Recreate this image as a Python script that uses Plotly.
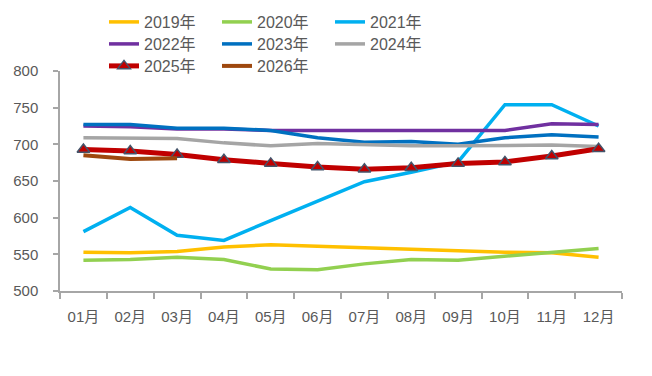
import plotly.graph_objects as go

months = ["01月", "02月", "03月", "04月", "05月", "06月", "07月", "08月", "09月", "10月", "11月", "12月"]

y2019 = [553, 552, 554, 560, 563, 561, 558, 556, 554, 553, 552, 546]
y2020 = [542, 543, 546, 543, 530, 529, 537, 543, 542, 547, 552, 558]
y2021 = [581, 614, 576, 569, 596, 623, 649, 662, 676, 754, 754, 725]
y2022 = [725, 724, 721, 721, 719, 719, 719, 719, 719, 719, 728, 727]
y2023 = [727, 727, 722, 722, 719, 709, 703, 704, 700, 709, 713, 710]
y2024 = [709, 708, 708, 702, 698, 701, 699, 698, 698, 699, 699, 697]
y2025 = [693, 691, 686, 679, 674, 669, 666, 668, 674, 676, 684, 694]
y2026 = [685, 680, 681]

series = [
    ("2019年", y2019, "#FFC000", "legend"),
    ("2020年", y2020, "#92D050", "legend"),
    ("2021年", y2021, "#00B0F0", "legend"),
    ("2022年", y2022, "#7030A0", "legend2"),
    ("2023年", y2023, "#0070C0", "legend2"),
    ("2024年", y2024, "#A5A5A5", "legend2"),
]

fig = go.Figure()
for name, vals, color, lg in series:
    fig.add_trace(go.Scatter(x=months[:len(vals)], y=vals, name=name, mode="lines",
                             line=dict(color=color, width=3.5), legend=lg))

fig.add_trace(go.Scatter(x=months, y=y2025, name="2025年", mode="lines+markers",
                         line=dict(color="#C00000", width=5),
                         marker=dict(symbol="triangle-up", size=11, color="#C00000",
                                     line=dict(color="#44546A", width=1.5)),
                         legend="legend3"))
fig.add_trace(go.Scatter(x=months[:len(y2026)], y=y2026, name="2026年", mode="lines",
                         line=dict(color="#9E480E", width=4), legend="legend3"))

# page body has an 8px margin; figure sized to fit inside the window
W, H = 644, 368
L, R, T, B = 52, 30, 63, 85

font = dict(family="Liberation Sans, Noto Sans CJK SC", size=16, color="#595959")
leg_common = dict(orientation="h", xanchor="left", yanchor="middle", font=font,
                  entrywidth=68, entrywidthmode="pixels", bgcolor="rgba(0,0,0,0)",
                  itemwidth=30, traceorder="normal", xref="container", yref="container")

fig.update_layout(
    width=W, height=H,
    margin=dict(l=L, r=R, t=T, b=B, autoexpand=False),
    paper_bgcolor="white", plot_bgcolor="white",
    font=font,
    showlegend=True,
    legend=dict(x=96 / W, y=1 - 14 / H, **leg_common),
    legend2=dict(x=96 / W, y=1 - 36 / H, **leg_common),
    legend3=dict(x=96 / W, y=1 - 58 / H, **leg_common),
)

fig.update_xaxes(
    type="category", range=[-0.5, 11.5],
    showline=True, linecolor="#A6A6A6", linewidth=1.5,
    ticks="outside", tickson="boundaries", ticklen=6, tickcolor="#A6A6A6", tickwidth=1.5,
    showgrid=False, zeroline=False,
    tickfont=dict(family="Liberation Sans, Noto Sans CJK SC", size=15, color="#595959"),
    ticklabelstandoff=11, automargin=False,
)
fig.update_yaxes(
    range=[500, 800], dtick=50,
    showline=True, linecolor="#A6A6A6", linewidth=1.5,
    ticks="outside", ticklen=5, tickcolor="#A6A6A6", tickwidth=1.5,
    showgrid=False, zeroline=False,
    tickfont=dict(family="Liberation Sans, Noto Sans CJK SC", size=15, color="#595959"),
    ticklabelstandoff=12, automargin=False,
)

fig.write_html("out.html")
